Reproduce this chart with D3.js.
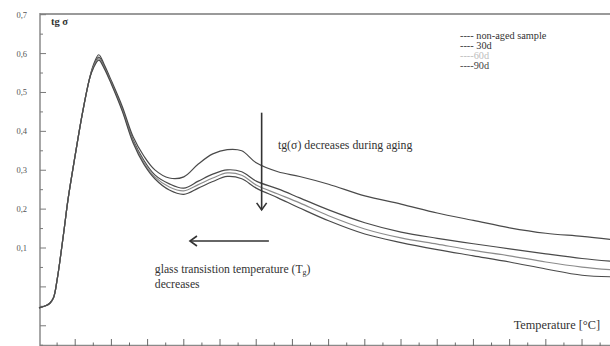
<!DOCTYPE html>
<html>
<head>
<meta charset="utf-8">
<script src="https://cdn.jsdelivr.net/npm/d3@7"></script>
<style>
  body { margin: 0; background: #fff; }
</style>
</head>
<body>
<svg id="chart" width="610" height="346"></svg>
<script>
// temperature positions (arbitrary units along the unlabeled x axis)
const temps = [0, 2, 3, 4, 5, 6, 7, 8, 10, 12, 14, 15, 16.5, 18, 20, 23, 26, 29, 32, 36, 40, 44, 48, 52, 56, 60, 66, 72, 80, 90, 100, 110, 120, 130, 140, 150, 158];

// shared rising flank (t = 0 .. 14)
const rise = [-0.054, -0.048, -0.042, -0.028, 0.018, 0.082, 0.152, 0.224, 0.339, 0.447, 0.537];

const nonAged = rise.concat([0.570, 0.597, 0.572, 0.530, 0.464, 0.386, 0.336, 0.301, 0.280, 0.283, 0.316, 0.342, 0.353, 0.350, 0.319, 0.296, 0.284, 0.264, 0.234, 0.213, 0.190, 0.171, 0.152, 0.138, 0.130, 0.122]);
const aged30 = rise.concat([0.567, 0.591, 0.568, 0.526, 0.458, 0.378, 0.325, 0.288, 0.265, 0.254, 0.272, 0.290, 0.301, 0.296, 0.272, 0.252, 0.229, 0.198, 0.165, 0.141, 0.125, 0.111, 0.098, 0.085, 0.073, 0.066]);
const aged60 = rise.concat([0.565, 0.587, 0.565, 0.524, 0.455, 0.374, 0.320, 0.283, 0.257, 0.247, 0.263, 0.280, 0.293, 0.287, 0.262, 0.239, 0.216, 0.183, 0.149, 0.126, 0.110, 0.094, 0.080, 0.064, 0.051, 0.044]);
const aged90 = rise.concat([0.562, 0.583, 0.562, 0.521, 0.452, 0.370, 0.315, 0.278, 0.249, 0.238, 0.254, 0.271, 0.284, 0.278, 0.254, 0.229, 0.203, 0.170, 0.136, 0.114, 0.096, 0.080, 0.064, 0.046, 0.030, 0.026]);

const seriesNames = ["non-aged sample", "30d", "60d", "90d"];
const seriesColors = ["#4a4a4a", "#4a4a4a", "#8c8c8c", "#4a4a4a"];
const legendColors = ["#333", "#333", "#bdbdbd", "#444"];
const legendLabels = ["---- non-aged sample", "---- 30d", "----60d", "----90d"];

const yLabels = [0.1, 0.2, 0.3, 0.4, 0.5, 0.6, 0.7];

const FONT = "Liberation Serif";
const svg = d3.select("#chart").attr("font-family", FONT);
const W = 610, H = 346;

const x = d3.scaleLinear().domain([0, 158]).range([39, 611]);
const y = d3.scaleLinear().domain([-0.152, 0.7]).range([346, 14.7]);

// --- frame ---
svg.append("line").attr("x1", 40).attr("x2", W).attr("y1", 14).attr("y2", 14)
  .attr("stroke", "#9a9a9a").attr("stroke-width", 2);
svg.append("line").attr("x1", 40).attr("x2", 40).attr("y1", 13).attr("y2", H)
  .attr("stroke", "#8a8a8a").attr("stroke-width", 1.5);
svg.append("line").attr("x1", 40).attr("x2", W).attr("y1", 345.5).attr("y2", 345.5)
  .attr("stroke", "#8a8a8a").attr("stroke-width", 1.5);

// y ticks (major every 0.1, minor every 0.05)
const yTicks = d3.range(-0.15, 0.70001, 0.05).map(v => +v.toFixed(2));
svg.append("g").selectAll("line").data(yTicks).enter().append("line")
  .attr("x1", 40)
  .attr("x2", d => Math.abs(Math.round(d * 100)) % 10 === 0 ? 46 : 43)
  .attr("y1", d => y(d)).attr("y2", d => y(d))
  .attr("stroke", "#7a7a7a").attr("stroke-width", 1);

svg.append("g").selectAll("text").data(yLabels).enter().append("text")
  .attr("x", 27).attr("y", d => y(d) + 3)
  .attr("text-anchor", "end").attr("font-family", FONT)
  .attr("font-size", 8.5).attr("fill", "#555")
  .text(d => d.toFixed(1).replace(".", ","));

// x ticks (major every 10, minor every 5), pointing up from bottom
const xTicks = d3.range(5, 158, 5);
svg.append("g").selectAll("line").data(xTicks).enter().append("line")
  .attr("x1", d => x(d)).attr("x2", d => x(d))
  .attr("y1", H)
  .attr("y2", d => d % 10 === 0 ? H - 7 : H - 3.5)
  .attr("stroke", "#6a6a6a").attr("stroke-width", 1);

// --- curves ---
const seriesData = [nonAged, aged30, aged60, aged90];
const line = d3.line()
  .x((d, i) => x(temps[i]))
  .y(d => y(d))
  .curve(d3.curveCatmullRom.alpha(0.5));

svg.append("g").selectAll("path").data(seriesData).enter().append("path")
  .attr("d", d => line(d))
  .attr("fill", "none")
  .attr("stroke", (d, i) => seriesColors[i])
  .attr("stroke-width", 1.2);

// --- labels ---
svg.append("text").attr("x", 51).attr("y", 25).attr("font-family", FONT)
  .attr("font-size", 10.5).attr("font-weight", "bold").attr("fill", "#333")
  .text("tg σ");

svg.append("text").attr("x", 600).attr("y", 329).attr("font-family", FONT)
  .attr("text-anchor", "end").attr("font-size", 12.3).attr("fill", "#333")
  .text("Temperature [°C]");

// legend
svg.append("g").selectAll("text").data(legendLabels).enter().append("text")
  .attr("x", 460).attr("y", (d, i) => 38.5 + i * 10).attr("font-family", FONT)
  .attr("font-size", 10.3)
  .attr("fill", (d, i) => legendColors[i])
  .text(d => d);

// vertical arrow: tg decreases during aging
const arrowT = 61.5;
const ax = x(arrowT);
const ayTop = y(0.448), ayBot = y(0.198);
svg.append("line").attr("x1", ax).attr("x2", ax).attr("y1", ayTop).attr("y2", ayBot)
  .attr("stroke", "#333").attr("stroke-width", 1.6);
svg.append("path")
  .attr("d", `M${ax - 5},${ayBot - 7}L${ax},${ayBot}L${ax + 5},${ayBot - 7}`)
  .attr("fill", "none").attr("stroke", "#333").attr("stroke-width", 1.6);

svg.append("text").attr("x", x(66)).attr("y", y(0.3556)).attr("font-family", FONT)
  .attr("font-size", 11.8).attr("fill", "#333")
  .text("tg(σ) decreases during aging");

// horizontal arrow: Tg decreases
const hy = y(0.118);
const hx1 = x(63.5), hx2 = x(41.7);
svg.append("line").attr("x1", hx1).attr("x2", hx2).attr("y1", hy).attr("y2", hy)
  .attr("stroke", "#333").attr("stroke-width", 1.6);
svg.append("path")
  .attr("d", `M${hx2 + 7},${hy - 5}L${hx2},${hy}L${hx2 + 7},${hy + 5}`)
  .attr("fill", "none").attr("stroke", "#333").attr("stroke-width", 1.6);

const gt = svg.append("text").attr("x", x(32)).attr("y", y(0.037)).attr("font-family", FONT)
  .attr("font-size", 11.7).attr("fill", "#333");
gt.append("tspan").text("glass transistion temperature (T");
gt.append("tspan").attr("font-size", 8).attr("dy", 2).text("g");
gt.append("tspan").attr("dy", -2).text(")");

svg.append("text").attr("x", x(32)).attr("y", y(-0.003)).attr("font-family", FONT)
  .attr("font-size", 11.7).attr("fill", "#333")
  .text("decreases");
</script>
</body>
</html>
